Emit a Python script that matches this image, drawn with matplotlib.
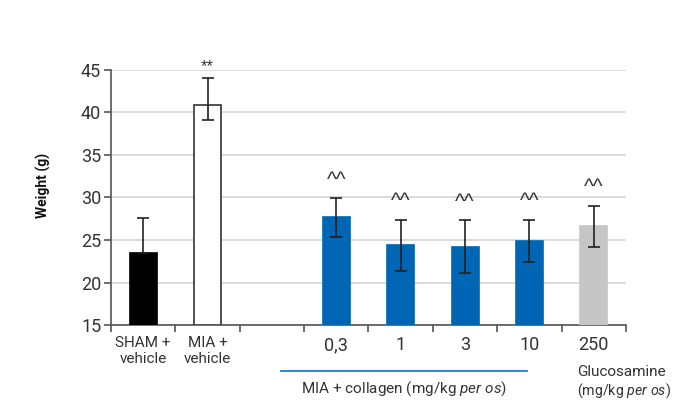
import matplotlib.pyplot as plt

plt.rcParams['font.family'] = 'Roboto'
plt.rcParams['mathtext.fontset'] = 'custom'
plt.rcParams['mathtext.rm'] = 'Roboto'
plt.rcParams['mathtext.it'] = 'Roboto:italic'

groups = ['SHAM +\nvehicle', 'MIA +\nvehicle', '', '0,3', '1', '3', '10', '250']
weights = [23.5, 40.85, None, 27.7, 24.4, 24.2, 24.9, 26.6]
err_low = [0.0, 1.7, None, 2.3, 3.0, 3.1, 2.5, 2.4]
err_high = [4.05, 3.2, None, 2.2, 3.0, 3.1, 2.5, 2.4]
marks = ['', '**', '', '^^', '^^', '^^', '^^', '^^']
colors = ['black', 'white', 'white', '#0066b3', '#0066b3', '#0066b3', '#0066b3', '#c6c6c6']
edges = ['black', '#333333', 'white', '#0066b3', '#0066b3', '#0066b3', '#0066b3', '#c6c6c6']

# gap between the top of the error bar and the baseline of each mark, and its size
mark_gap = {'**': 0.85, '^^': 1.5}
mark_size = {'**': 12, '^^': 15}

fig = plt.figure(figsize=(6.78, 4.01), dpi=100)
ax = fig.add_axes([0.1637, 0.1895, 0.7596, 0.636])

idx = [i for i, v in enumerate(weights) if v is not None]
ax.bar(idx, [weights[i] - 15 for i in idx], bottom=15, width=0.42,
       color=[colors[i] for i in idx], edgecolor=[edges[i] for i in idx],
       linewidth=1.2, zorder=3)
ax.errorbar(idx, [weights[i] for i in idx],
            yerr=[[err_low[i] for i in idx], [err_high[i] for i in idx]],
            fmt='none', ecolor='#222222', elinewidth=1.2, capsize=4,
            capthick=1.2, zorder=4)

for i in idx:
    if marks[i]:
        ax.text(i, weights[i] + err_high[i] + mark_gap[marks[i]], marks[i],
                ha='center', va='baseline', fontsize=mark_size[marks[i]],
                color='#333333', family='Liberation Sans', clip_on=False)

ax.set_xlim(-0.5, 7.5)
ax.set_ylim(15, 45)
ax.set_yticks(range(15, 46, 5))
ax.tick_params(axis='y', labelsize=13, length=5, width=1.2, color='#555555',
               labelcolor='#333333', pad=2)

# category labels sit on minor ticks, the boundary marks on major ticks
ax.set_xticks([i - 0.5 for i in range(9)])
ax.set_xticklabels([])
ax.tick_params(axis='x', which='major', direction='out', length=5, width=1.2,
               color='#555555')
ax.set_xticks(range(8), minor=True)
ax.set_xticklabels(groups, minor=True)
ax.tick_params(axis='x', which='minor', length=0, pad=8, labelcolor='#333333')
for lbl in ax.get_xticklabels(minor=True):
    if '\n' in lbl.get_text():
        lbl.set_fontsize(11)
        lbl.set_linespacing(1.2)
    else:
        lbl.set_fontsize(13)

ax.yaxis.grid(True, color='#d4d4d4', linewidth=1.2, zorder=0)
ax.set_axisbelow(True)
for side in ['top', 'right']:
    ax.spines[side].set_visible(False)
for side in ['left', 'bottom']:
    ax.spines[side].set_color('#555555')
    ax.spines[side].set_linewidth(1.2)

fig.text(0.064, 0.538, 'Weight (g)', rotation=90, ha='center', va='center',
         fontsize=10, fontweight='bold', color='#111111')

fig.add_artist(plt.Line2D([281 / 678, 527 / 678], [1 - 371 / 401, 1 - 371 / 401],
                          color='#0a6fc2', linewidth=1.2))
fig.text(404 / 678, 1 - 389 / 401, r'MIA + collagen (mg/kg $\it{per\ os}$)',
         ha='center', va='center', fontsize=11, color='#333333')
fig.text(577 / 678, 1 - 372 / 401, 'Glucosamine', ha='left', va='center',
         fontsize=11, color='#333333')
fig.text(577 / 678, 1 - 391 / 401, r'(mg/kg $\it{per\ os}$)', ha='left',
         va='center', fontsize=10.2, color='#333333')

fig.savefig('out.png', dpi=100)
